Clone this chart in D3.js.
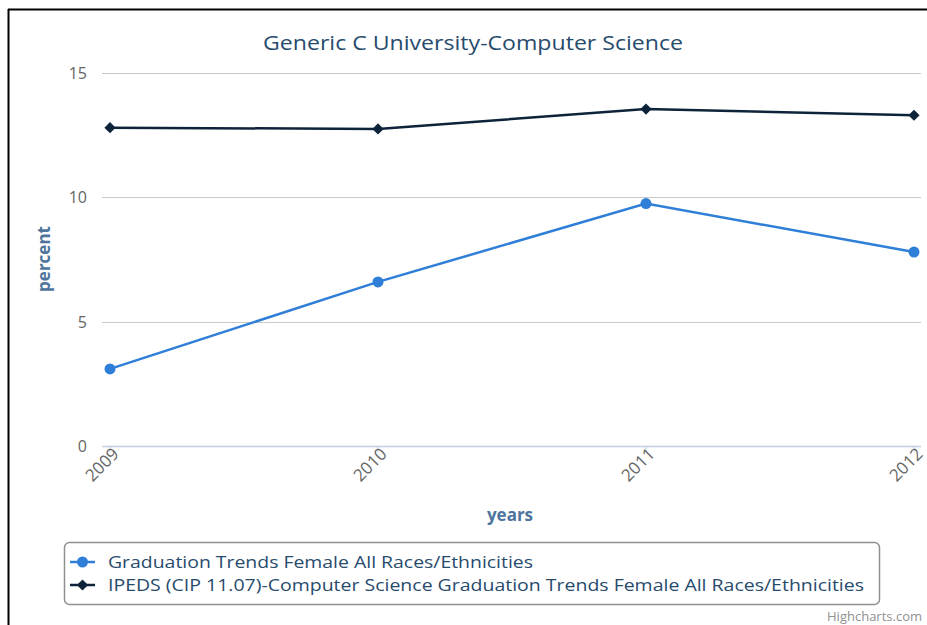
<!DOCTYPE html>
<html>
<head>
    <meta charset="utf-8">
    <style>
        body { margin: 0; background: white; }
        svg { font-family: "Open Sans", "DejaVu Sans", sans-serif; }
    </style>
</head>
<body>
<svg width="927" height="625"></svg>
<script src="https://d3js.org/d3.v7.min.js"></script>
<script>
    // data
    let years = ["2009", "2010", "2011", "2012"]
    let graduation = [3.1, 6.6, 9.75, 7.8]
    let ipeds = [12.8, 12.75, 13.55, 13.3]
    let yTicks = [0, 5, 10, 15]
    let seriesNames = ["Graduation Trends Female All Races/Ethnicities",
        "IPEDS (CIP 11.07)-Computer Science Graduation Trends Female All Races/Ethnicities"]
    let legendWidths = [425, 756]

    let blue = "#2f7ed8"
    let navy = "#0d233a"

    let svg = d3.select("svg")

    // frame lines (top and left)
    svg.append("line").attr("x1", 8).attr("x2", 927).attr("y1", 9.5).attr("y2", 9.5)
        .style("stroke", "black").style("stroke-width", 2)
    svg.append("line").attr("x1", 8.5).attr("x2", 8.5).attr("y1", 9).attr("y2", 625)
        .style("stroke", "black").style("stroke-width", 2)

    let x = d3.scalePoint().domain(years).range([110, 914])
    let y = d3.scaleLinear().domain([0, 15]).range([446, 73])

    // gridlines
    svg.append("g").selectAll("line")
        .data(yTicks.filter(d => d > 0))
        .join("line")
        .attr("x1", 102).attr("x2", 921)
        .attr("y1", d => Math.round(y(d)) + 0.5).attr("y2", d => Math.round(y(d)) + 0.5)
        .style("stroke", "#c8c8c8").style("stroke-width", 1)

    // y tick labels
    svg.append("g").selectAll("text")
        .data(yTicks)
        .join("text")
        .attr("x", 87).attr("y", d => y(d) + 6)
        .attr("text-anchor", "end")
        .style("font-size", "16px").style("fill", "#666")
        .text(d => d)

    // x axis line + ticks
    svg.append("line").attr("x1", 102).attr("x2", 921).attr("y1", 446.5).attr("y2", 446.5)
        .style("stroke", "#c0d0e0").style("stroke-width", 1.5)
    svg.append("g").selectAll("line")
        .data(years)
        .join("line")
        .attr("x1", d => x(d)).attr("x2", d => x(d))
        .attr("y1", 446).attr("y2", 452)
        .style("stroke", "#c0d0e0").style("stroke-width", 1)

    svg.append("g").selectAll("text")
        .data(years)
        .join("text")
        .attr("transform", d => `translate(${x(d) + 10},${455}) rotate(-45)`)
        .attr("text-anchor", "end")
        .style("font-size", "17px").style("fill", "#666")
        .text(d => d)

    // title + axis titles
    svg.append("text").attr("x", 263).attr("y", 50)
        .attr("textLength", 420).attr("lengthAdjust", "spacingAndGlyphs")
        .style("font-size", "20px").style("fill", "#274b6d")
        .text("Generic C University-Computer Science")
    svg.append("text").attr("x", 510).attr("y", 521).attr("text-anchor", "middle")
        .style("font-size", "17px").style("font-weight", "bold").style("fill", "#4d759e")
        .text("years")
    svg.append("text").attr("transform", "translate(50,259) rotate(-90)").attr("text-anchor", "middle")
        .style("font-size", "17px").style("font-weight", "bold").style("fill", "#4d759e")
        .text("percent")

    let line = d3.line().x((d, i) => x(years[i])).y(d => y(d))

    // navy series with diamonds
    svg.append("path").datum(ipeds).attr("d", line)
        .style("fill", "none").style("stroke", navy).style("stroke-width", 2.5)
    let diamond = d3.symbol().type(d3.symbolDiamond2).size(80)
    svg.append("g").selectAll("path")
        .data(ipeds)
        .join("path")
        .attr("d", diamond)
        .attr("transform", (d, i) => `translate(${x(years[i])},${y(d)})`)
        .style("fill", navy)

    // blue series with circles
    svg.append("path").datum(graduation).attr("d", line)
        .style("fill", "none").style("stroke", blue).style("stroke-width", 2.5)
    svg.append("g").selectAll("circle")
        .data(graduation)
        .join("circle")
        .attr("cx", (d, i) => x(years[i])).attr("cy", d => y(d)).attr("r", 5.5)
        .style("fill", blue)

    // legend
    svg.append("rect").attr("x", 64.5).attr("y", 542.5).attr("width", 815).attr("height", 62).attr("rx", 5)
        .style("fill", "white").style("stroke", "#909090").style("stroke-width", 1.5)

    let legendColors = [blue, navy]
    let legend = svg.append("g").selectAll("g")
        .data(seriesNames)
        .join("g")
        .attr("transform", (d, i) => `translate(0,${562 + i * 23})`)
    legend.append("line").attr("x1", 70).attr("x2", 95).attr("y1", 0).attr("y2", 0)
        .style("stroke", (d, i) => legendColors[i]).style("stroke-width", 2.5)
    legend.filter((d, i) => i == 0).append("circle").attr("cx", 82.5).attr("cy", 0).attr("r", 5.5)
        .style("fill", blue)
    legend.filter((d, i) => i == 1).append("path").attr("d", diamond).attr("transform", "translate(82.5,0)")
        .style("fill", navy)
    legend.append("text").attr("x", 108).attr("y", 6)
        .attr("textLength", (d, i) => legendWidths[i]).attr("lengthAdjust", "spacingAndGlyphs")
        .style("font-size", "17px").style("fill", "#274b6d")
        .text(d => d)

    svg.append("text").attr("x", 922).attr("y", 621).attr("text-anchor", "end")
        .style("font-size", "13px").style("fill", "#909090")
        .text("Highcharts.com")
</script>
</body>
</html>
